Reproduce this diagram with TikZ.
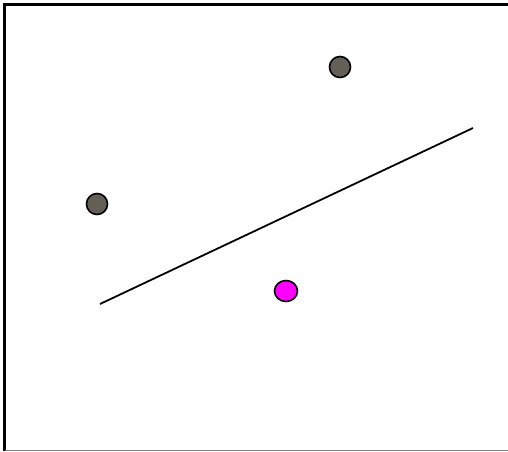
\documentclass[tikz,border=0pt]{standalone}
\usetikzlibrary{shapes.geometric}
\begin{document}
\begin{tikzpicture}[x=1pt,y=-1pt,
  dot/.style={circle,draw=black,line width=1.6pt,minimum size=21pt,inner sep=0pt},
  graydot/.style={dot,fill=dotgray},
  pinkdot/.style={ellipse,draw=black,line width=1.6pt,minimum width=23pt,minimum height=21pt,inner sep=0pt,fill=dotpink}]
\definecolor{dotgray}{RGB}{100,96,88}
\definecolor{dotpink}{RGB}{255,0,255}
\useasboundingbox (0,0) rectangle (508,451);
\draw[line width=3pt,black] (4.5,451) -- (4.5,4.5) -- (508,4.5);
\draw[line width=1.2pt,gray] (4.5,450.4) -- (508,450.4);
\node[graydot] (a) at (340,67) {};
\node[graydot] (b) at (97,204) {};
\node[pinkdot] (c) at (286,291) {};
\coordinate (l1) at (100,304);
\coordinate (l2) at (473,128);
\draw[line width=1.8pt] (l1) -- (l2);
\end{tikzpicture}
\end{document}
